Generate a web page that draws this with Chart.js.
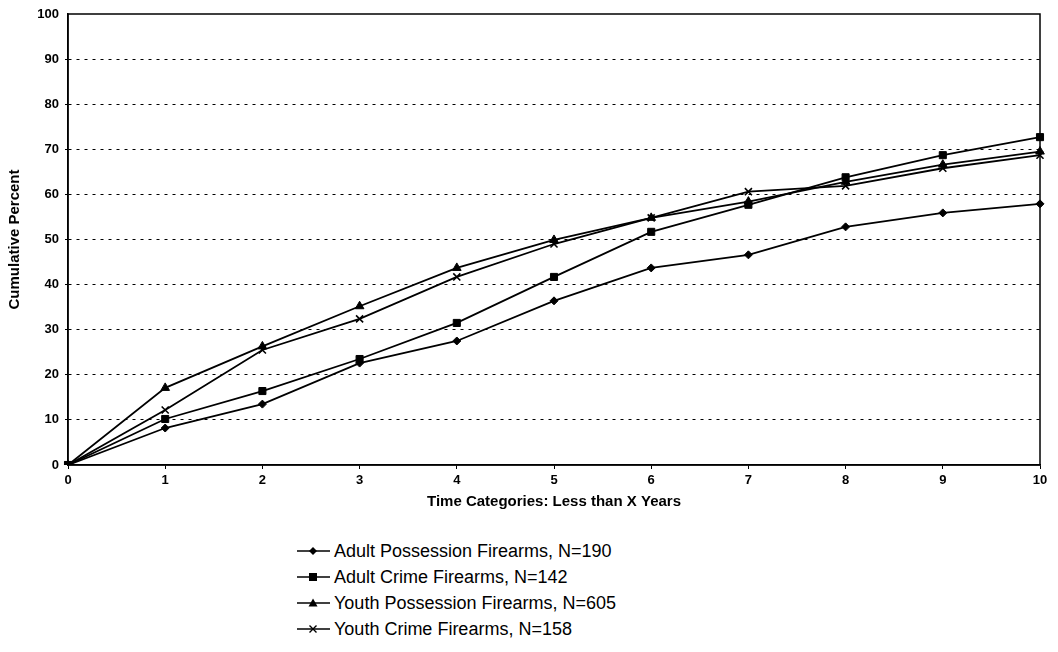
<!DOCTYPE html>
<html>
<head>
<meta charset="utf-8">
<script src="https://cdn.jsdelivr.net/npm/chart.js@4/dist/chart.umd.min.js"></script>
<style>
  html, body { margin: 0; padding: 0; background: #fff; }
  #wrap { position: relative; width: 1058px; height: 652px; }
  #chartBox { position: absolute; left: 0; top: 0; width: 1058px; height: 520px; }
  #legend { position: absolute; left: 296px; top: 538px; font-family: "Liberation Sans", Arial, sans-serif; font-size: 18px; color: #000; }
  .item { display: flex; align-items: center; height: 26px; }
  .item svg { margin-right: 2px; }
</style>
</head>
<body>
<div id="wrap">
  <div id="chartBox"><canvas id="trendChart"></canvas></div>
  <div id="legend"></div>
</div>
<script>
const years = ["0", "1", "2", "3", "4", "5", "6", "7", "8", "9", "10"];
const adultPossession = [0, 8.2, 13.5, 22.6, 27.5, 36.4, 43.7, 46.6, 52.8, 55.9, 57.9];
const adultCrime = [0, 10.2, 16.4, 23.5, 31.5, 41.7, 51.7, 57.7, 63.8, 68.7, 72.7];
const youthPossession = [0, 17.1, 26.3, 35.2, 43.7, 49.9, 54.8, 58.4, 62.8, 66.6, 69.5];
const youthCrime = [0, 12.2, 25.5, 32.4, 41.7, 49.0, 54.8, 60.6, 61.9, 65.8, 68.7];
const seriesNames = [
  "Adult Possession Firearms, N=190",
  "Adult Crime Firearms, N=142",
  "Youth Possession Firearms, N=605",
  "Youth Crime Firearms, N=158"
];
const yTicks = [0, 10, 20, 30, 40, 50, 60, 70, 80, 90, 100];

const canvas = document.querySelector("#trendChart");
const tickFont = { family: "'Liberation Sans', Arial, sans-serif", size: 13, weight: "bold" };
const titleFont = { family: "'Liberation Sans', Arial, sans-serif", size: 15, weight: "bold" };

function makeSet(label, data, style, radius) {
  return {
    label,
    data,
    borderColor: "#000",
    backgroundColor: "#000",
    borderWidth: 1.8,
    pointStyle: style,
    pointRadius: radius,
    pointBorderWidth: style === "crossRot" ? 1.6 : 1,
    tension: 0
  };
}

// box round the plot area (top and right edges too)
const frame = {
  id: "frame",
  afterDraw(chart) {
    const { ctx, chartArea: a } = chart;
    ctx.save();
    ctx.strokeStyle = "#000";
    ctx.lineWidth = 1.5;
    ctx.setLineDash([]);
    ctx.strokeRect(a.left, a.top, a.right - a.left, a.bottom - a.top);
    ctx.restore();
  }
};

const chart = new Chart(canvas, {
  type: "line",
  data: {
    labels: years,
    datasets: [
      makeSet(seriesNames[0], adultPossession, "rectRot", 4),
      makeSet(seriesNames[1], adultCrime, "rect", 5),
      makeSet(seriesNames[2], youthPossession, "triangle", 5),
      makeSet(seriesNames[3], youthCrime, "crossRot", 5)
    ]
  },
  options: {
    responsive: true,
    maintainAspectRatio: false,
    animation: false,
    layout: { padding: { top: 14, right: 18, left: 0, bottom: 0 } },
    plugins: {
      legend: { display: false },
      tooltip: { enabled: false }
    },
    scales: {
      x: {
        offset: false,
        afterFit(scale) { scale.height = 55; },
        title: { display: true, text: "Time Categories: Less than X Years", color: "#000", font: titleFont, padding: { top: 0, bottom: 9 } },
        ticks: { color: "#000", font: tickFont, padding: 4, maxRotation: 0, autoSkip: false },
        grid: { drawOnChartArea: false, color: "#000", tickLength: 4 },
        border: { color: "#000", width: 1.5 }
      },
      y: {
        min: 0,
        max: 100,
        afterFit(scale) { scale.width = 68; },
        afterBuildTicks(scale) { scale.ticks = yTicks.map((v) => ({ value: v })); },
        title: { display: true, text: "Cumulative Percent", color: "#000", font: titleFont, padding: { top: 6, bottom: 0 } },
        ticks: { color: "#000", font: tickFont, padding: 6 },
        grid: {
          color: (c) => (c.tick && (c.tick.value === 0 || c.tick.value === 100) ? "rgba(0,0,0,0)" : "#000"),
          lineWidth: 1,
          tickLength: 3
        },
        border: { color: "#000", width: 1.5, dash: [3, 5] }
      }
    }
  },
  plugins: [frame]
});

// legend rows: line + marker swatch and label text
function markerSvg(style) {
  let mark = "";
  if (style === "rectRot") mark = '<polygon points="17,2 21,6 17,10 13,6" fill="#000"/>';
  if (style === "rect") mark = '<rect x="13" y="2" width="8" height="8" fill="#000"/>';
  if (style === "triangle") mark = '<polygon points="17,1.5 21.5,9.5 12.5,9.5" fill="#000"/>';
  if (style === "crossRot") mark = '<path d="M13.5,2.5 L20.5,9.5 M20.5,2.5 L13.5,9.5" stroke="#000" stroke-width="1.4"/>';
  return '<svg width="36" height="12"><line x1="1" y1="6" x2="34" y2="6" stroke="#000" stroke-width="1.6"/>' + mark + "</svg>";
}
const legendBox = document.querySelector("#legend");
chart.data.datasets.forEach((ds) => {
  const row = document.createElement("div");
  row.className = "item";
  row.innerHTML = markerSvg(ds.pointStyle) + "<span>" + ds.label + "</span>";
  legendBox.appendChild(row);
});
</script>
</body>
</html>
